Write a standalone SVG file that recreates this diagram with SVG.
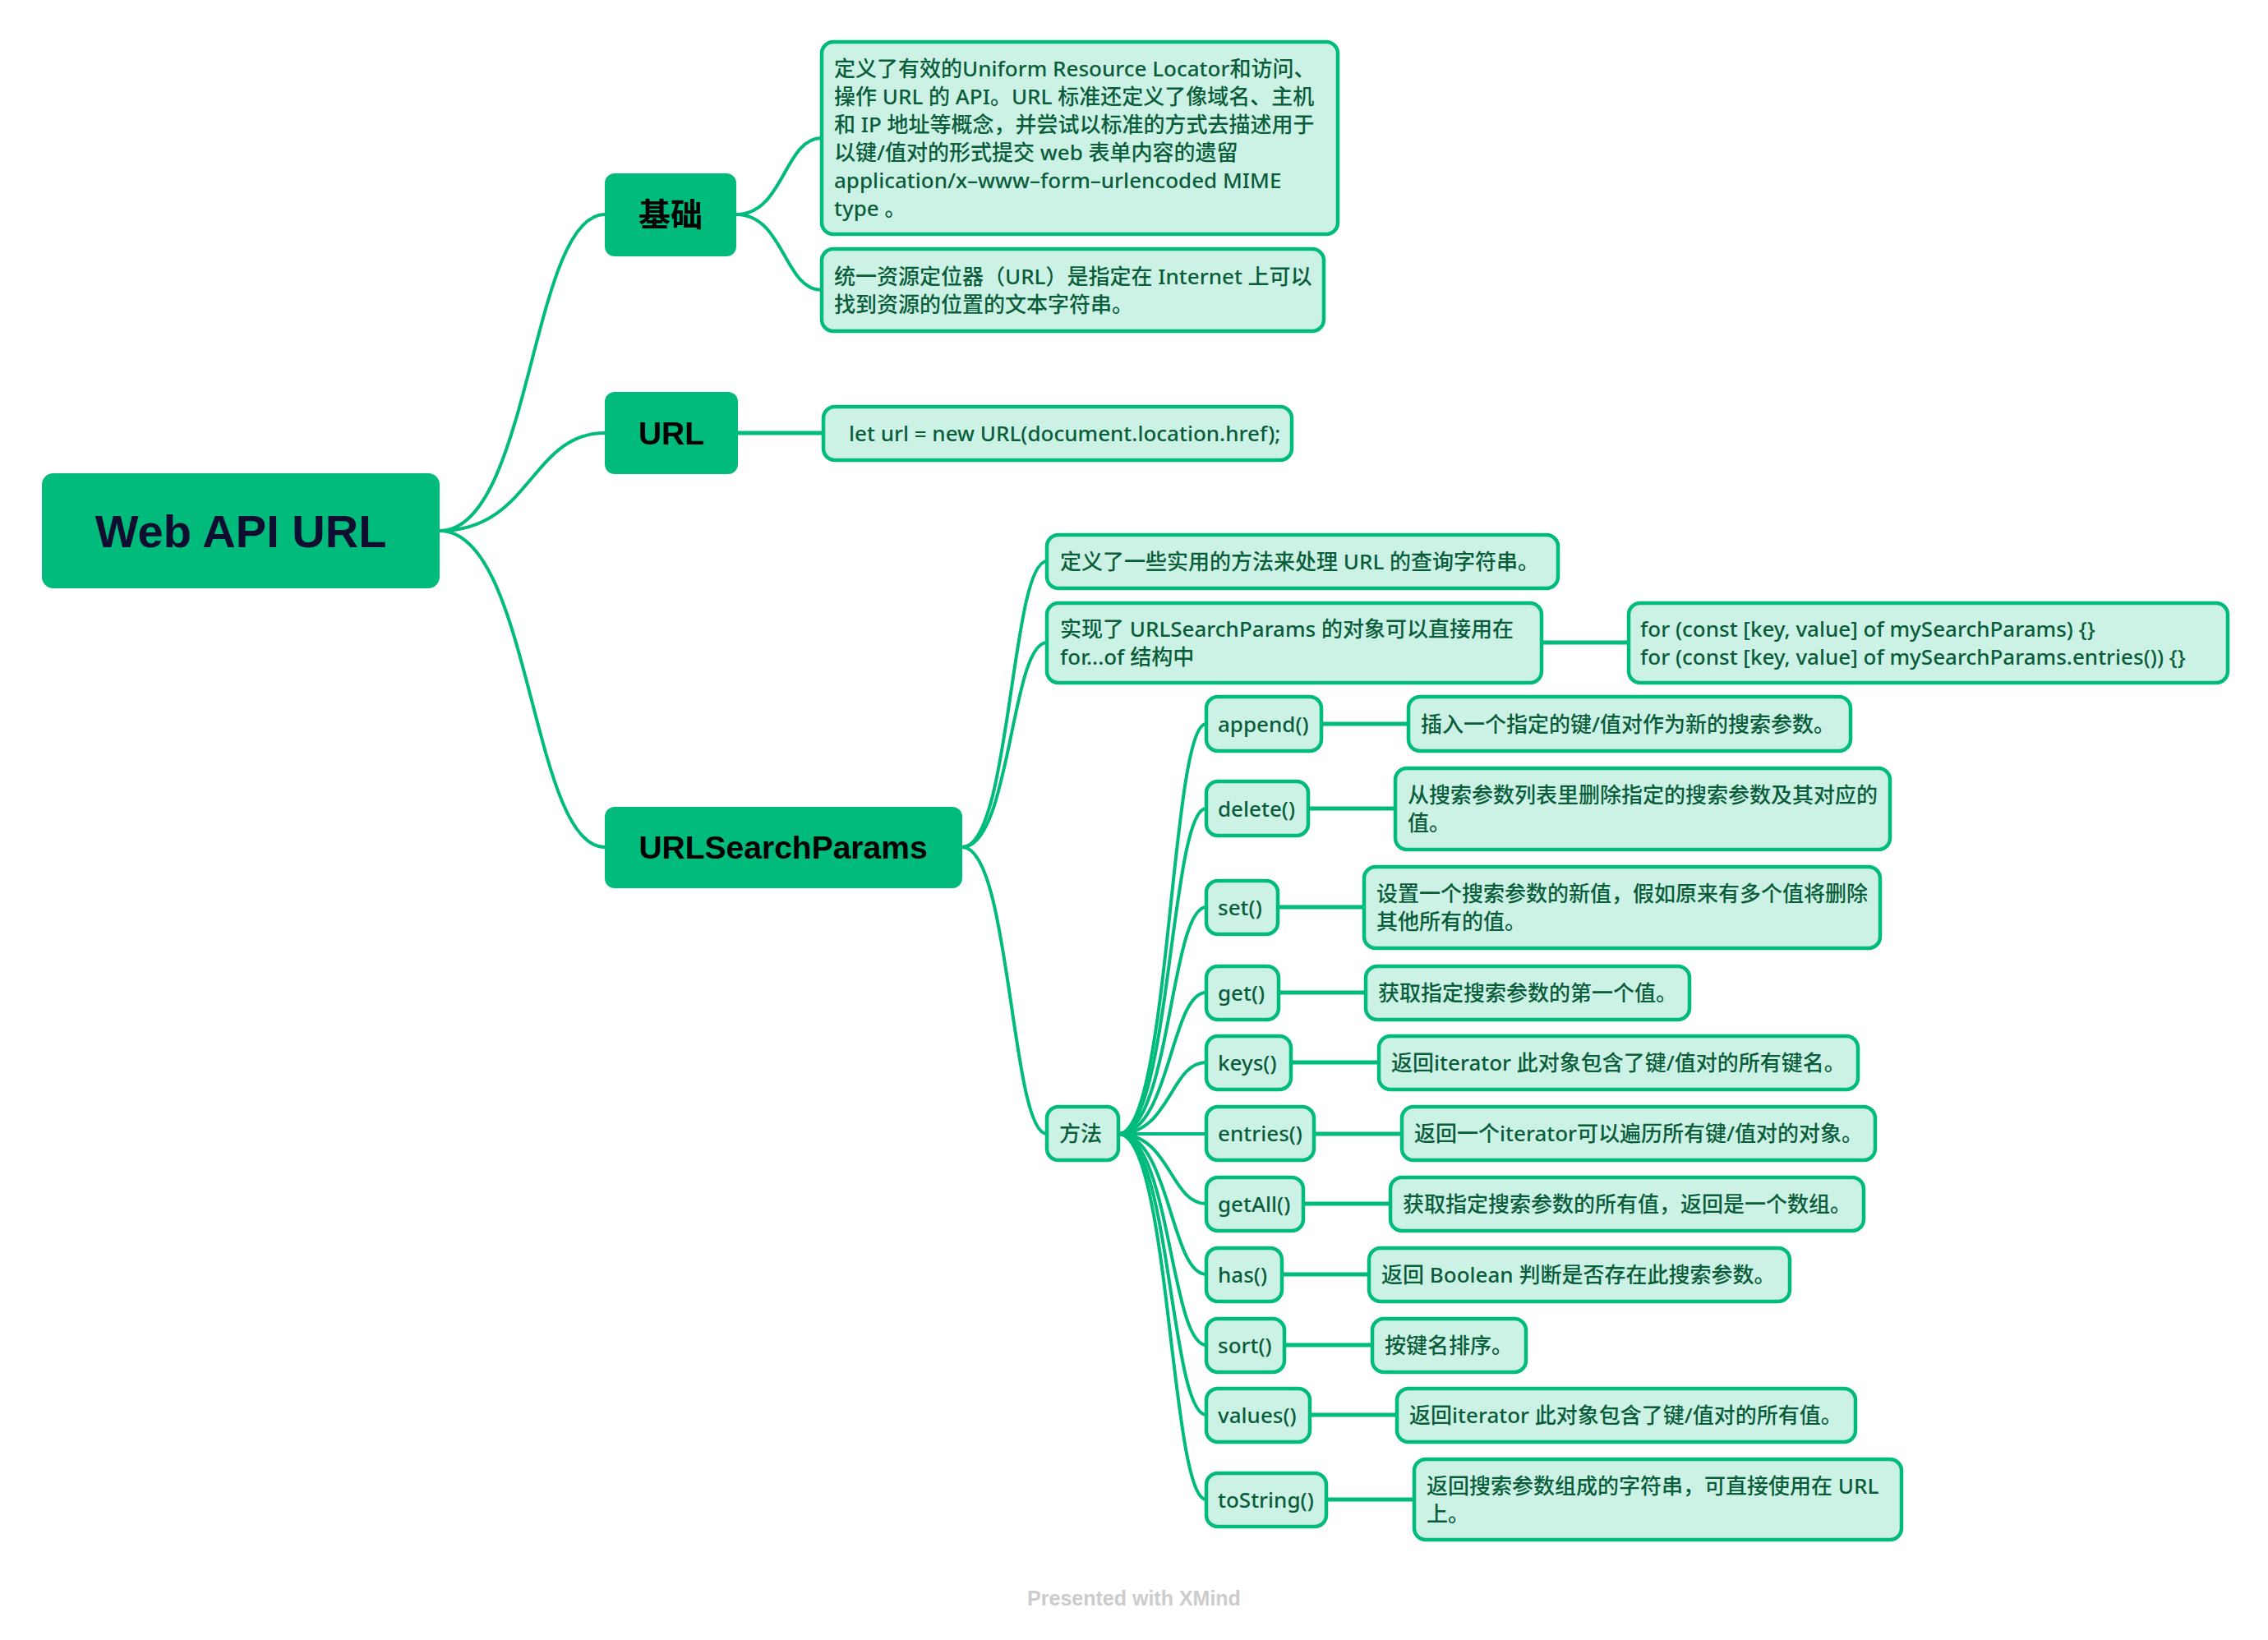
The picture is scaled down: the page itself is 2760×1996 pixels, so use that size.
<svg xmlns="http://www.w3.org/2000/svg" width="2760" height="1996" viewBox="0 0 2760 1996">
  <style>
    .bg { fill: #ffffff; }
    .root rect { fill: #00bb7c; }
    .root text { font-family: "Liberation Sans", "Noto Sans CJK SC", sans-serif; font-size: 56px; font-weight: bold; fill: #0e0e30; text-anchor: middle; }
    .main rect { fill: #00bb7c; }
    .main text { font-family: "Liberation Sans", "Noto Sans CJK SC", sans-serif; font-size: 39px; font-weight: bold; fill: #000000; text-anchor: middle; }
    .sub rect { fill: #ccf2e5; stroke: #00bb7c; stroke-width: 4.5; }
    .sub text { font-family: "Noto Sans", "Noto Sans CJK SC", sans-serif; font-size: 26px; font-weight: 500; fill: #0a5d3b; }
    .edges path { fill: none; stroke: #00bb7c; stroke-width: 4; stroke-linecap: round; }
    .edges .leaf { stroke-width: 5; }
    .footer { font-family: "Liberation Sans", sans-serif; font-size: 25px; font-weight: bold; fill: #cccccc; text-anchor: middle; }
  </style>

  <rect class="bg" x="0" y="0" width="2760" height="1996"/>

  <!-- connectors -->
  <g id="connectors" class="edges">
    <!-- root to main topics -->
    <path d="M535 646 C646 646 646 261 736 261"/>
    <path d="M535 646 C646 646 646 527 736 527"/>
    <path d="M535 646 C646 646 646 1031 736 1031"/>
    <!-- 基础 -->
    <path d="M896 261 C954 261 954 168 1000 168"/>
    <path d="M896 261 C954 261 954 353 1000 353"/>
    <!-- URL -->
    <path class="leaf" d="M898 527 L1002 527"/>
    <!-- URLSearchParams -->
    <path d="M1171 1031 C1230 1031 1230 683 1274 683"/>
    <path d="M1171 1031 C1230 1031 1230 782 1274 782"/>
    <path d="M1171 1031 C1230 1031 1230 1380 1274 1380"/>
    <path class="leaf" d="M1876 782 L1982 782"/>
    <!-- 方法 to methods -->
    <path d="M1361 1380 C1424 1380 1424 881 1468 881"/>
    <path d="M1361 1380 C1424 1380 1424 984 1468 984"/>
    <path d="M1361 1380 C1424 1380 1424 1104 1468 1104"/>
    <path d="M1361 1380 C1424 1380 1424 1208 1468 1208"/>
    <path d="M1361 1380 C1424 1380 1424 1293 1468 1293"/>
    <path d="M1361 1380 C1424 1380 1424 1380 1468 1380"/>
    <path d="M1361 1380 C1424 1380 1424 1465 1468 1465"/>
    <path d="M1361 1380 C1424 1380 1424 1551 1468 1551"/>
    <path d="M1361 1380 C1424 1380 1424 1637 1468 1637"/>
    <path d="M1361 1380 C1424 1380 1424 1722 1468 1722"/>
    <path d="M1361 1380 C1424 1380 1424 1825 1468 1825"/>
    <!-- methods to descriptions -->
    <path class="leaf" d="M1608 881 L1714 881"/>
    <path class="leaf" d="M1592 984 L1698 984"/>
    <path class="leaf" d="M1555 1104 L1660 1104"/>
    <path class="leaf" d="M1556 1208 L1662 1208"/>
    <path class="leaf" d="M1571 1293 L1678 1293"/>
    <path class="leaf" d="M1599 1380 L1706 1380"/>
    <path class="leaf" d="M1586 1465 L1692 1465"/>
    <path class="leaf" d="M1560 1551 L1666 1551"/>
    <path class="leaf" d="M1563 1637 L1670 1637"/>
    <path class="leaf" d="M1594 1722 L1700 1722"/>
    <path class="leaf" d="M1614 1825 L1721 1825"/>
  </g>

  <!-- central topic -->
  <g id="root" class="root">
    <rect x="51" y="576" width="484" height="140" rx="14"/>
    <text x="293" y="666">Web API URL</text>
  </g>

  <!-- main topics -->
  <g id="jichu" class="main">
    <rect x="736" y="211" width="160" height="101" rx="12"/>
    <text x="816" y="275">基础</text>
  </g>
  <g id="url" class="main">
    <rect x="736" y="477" width="162" height="100" rx="12"/>
    <text x="817" y="541">URL</text>
  </g>
  <g id="usp" class="main">
    <rect x="736" y="982" width="435" height="99" rx="12"/>
    <text x="953" y="1045">URLSearchParams</text>
  </g>

  <!-- 基础 details -->
  <g id="jichu-def" class="sub">
    <rect x="1000" y="51" width="628" height="234" rx="14"/>
    <text x="1015">
      <tspan x="1015" y="93">定义了有效的Uniform Resource Locator和访问、</tspan>
      <tspan x="1015" y="127">操作 URL 的 API。URL 标准还定义了像域名、主机</tspan>
      <tspan x="1015" y="161">和 IP 地址等概念，并尝试以标准的方式去描述用于</tspan>
      <tspan x="1015" y="195">以键/值对的形式提交 web 表单内容的遗留</tspan>
      <tspan x="1015" y="229">application/x–www–form–urlencoded MIME</tspan>
      <tspan x="1015" y="263">type 。</tspan>
    </text>
  </g>
  <g id="jichu-url" class="sub">
    <rect x="1000" y="303" width="611" height="100" rx="14"/>
    <text>
      <tspan x="1015" y="346">统一资源定位器（URL）是指定在 Internet 上可以</tspan>
      <tspan x="1015" y="380">找到资源的位置的文本字符串。</tspan>
    </text>
  </g>

  <!-- URL detail -->
  <g id="url-code" class="sub">
    <rect x="1002" y="495" width="570" height="65" rx="14"/>
    <text x="1033" y="537">let url = new URL(document.location.href);</text>
  </g>

  <!-- URLSearchParams details -->
  <g id="usp-def" class="sub">
    <rect x="1274" y="651" width="622" height="65" rx="14"/>
    <text x="1290" y="693">定义了一些实用的方法来处理 URL 的查询字符串。</text>
  </g>
  <g id="usp-iter" class="sub">
    <rect x="1274" y="734" width="602" height="97" rx="14"/>
    <text>
      <tspan x="1290" y="775">实现了 URLSearchParams 的对象可以直接用在</tspan>
      <tspan x="1290" y="809">for...of 结构中</tspan>
    </text>
  </g>
  <g id="usp-iter-code" class="sub">
    <rect x="1982" y="734" width="729" height="97" rx="14"/>
    <text>
      <tspan x="1996" y="775">for (const [key, value] of mySearchParams) {}</tspan>
      <tspan x="1996" y="809">for (const [key, value] of mySearchParams.entries()) {}</tspan>
    </text>
  </g>
  <g id="methods" class="sub">
    <rect x="1274" y="1347" width="87" height="65" rx="14"/>
    <text x="1289" y="1389">方法</text>
  </g>

  <!-- methods -->
  <g id="m-append" class="sub">
    <rect x="1468" y="848" width="140" height="66" rx="14"/>
    <text x="1482" y="891">append()</text>
  </g>
  <g id="d-append" class="sub">
    <rect x="1714" y="848" width="538" height="66" rx="14"/>
    <text x="1729" y="891">插入一个指定的键/值对作为新的搜索参数。</text>
  </g>

  <g id="m-delete" class="sub">
    <rect x="1468" y="951" width="124" height="66" rx="14"/>
    <text x="1482" y="994">delete()</text>
  </g>
  <g id="d-delete" class="sub">
    <rect x="1698" y="935" width="602" height="99" rx="14"/>
    <text>
      <tspan x="1713" y="977">从搜索参数列表里删除指定的搜索参数及其对应的</tspan>
      <tspan x="1713" y="1011">值。</tspan>
    </text>
  </g>

  <g id="m-set" class="sub">
    <rect x="1468" y="1072" width="87" height="65" rx="14"/>
    <text x="1482" y="1114">set()</text>
  </g>
  <g id="d-set" class="sub">
    <rect x="1660" y="1055" width="628" height="99" rx="14"/>
    <text>
      <tspan x="1675" y="1097">设置一个搜索参数的新值，假如原来有多个值将删除</tspan>
      <tspan x="1675" y="1131">其他所有的值。</tspan>
    </text>
  </g>

  <g id="m-get" class="sub">
    <rect x="1468" y="1176" width="88" height="65" rx="14"/>
    <text x="1482" y="1218">get()</text>
  </g>
  <g id="d-get" class="sub">
    <rect x="1662" y="1176" width="394" height="65" rx="14"/>
    <text x="1677" y="1218">获取指定搜索参数的第一个值。</text>
  </g>

  <g id="m-keys" class="sub">
    <rect x="1468" y="1261" width="103" height="65" rx="14"/>
    <text x="1482" y="1303">keys()</text>
  </g>
  <g id="d-keys" class="sub">
    <rect x="1678" y="1261" width="583" height="65" rx="14"/>
    <text x="1693" y="1303">返回iterator 此对象包含了键/值对的所有键名。</text>
  </g>

  <g id="m-entries" class="sub">
    <rect x="1468" y="1347" width="131" height="65" rx="14"/>
    <text x="1482" y="1389">entries()</text>
  </g>
  <g id="d-entries" class="sub">
    <rect x="1706" y="1347" width="576" height="65" rx="14"/>
    <text x="1721" y="1389">返回一个iterator可以遍历所有键/值对的对象。</text>
  </g>

  <g id="m-getall" class="sub">
    <rect x="1468" y="1433" width="118" height="65" rx="14"/>
    <text x="1482" y="1475">getAll()</text>
  </g>
  <g id="d-getall" class="sub">
    <rect x="1692" y="1433" width="576" height="65" rx="14"/>
    <text x="1707" y="1475">获取指定搜索参数的所有值，返回是一个数组。</text>
  </g>

  <g id="m-has" class="sub">
    <rect x="1468" y="1519" width="92" height="65" rx="14"/>
    <text x="1482" y="1561">has()</text>
  </g>
  <g id="d-has" class="sub">
    <rect x="1666" y="1519" width="512" height="65" rx="14"/>
    <text x="1681" y="1561">返回 Boolean 判断是否存在此搜索参数。</text>
  </g>

  <g id="m-sort" class="sub">
    <rect x="1468" y="1605" width="95" height="65" rx="14"/>
    <text x="1482" y="1647">sort()</text>
  </g>
  <g id="d-sort" class="sub">
    <rect x="1670" y="1605" width="187" height="65" rx="14"/>
    <text x="1685" y="1647">按键名排序。</text>
  </g>

  <g id="m-values" class="sub">
    <rect x="1468" y="1690" width="126" height="65" rx="14"/>
    <text x="1482" y="1732">values()</text>
  </g>
  <g id="d-values" class="sub">
    <rect x="1700" y="1690" width="558" height="65" rx="14"/>
    <text x="1715" y="1732">返回iterator 此对象包含了键/值对的所有值。</text>
  </g>

  <g id="m-tostring" class="sub">
    <rect x="1468" y="1793" width="146" height="65" rx="14"/>
    <text x="1482" y="1835">toString()</text>
  </g>
  <g id="d-tostring" class="sub">
    <rect x="1721" y="1776" width="593" height="98" rx="14"/>
    <text>
      <tspan x="1736" y="1818">返回搜索参数组成的字符串，可直接使用在 URL</tspan>
      <tspan x="1736" y="1852">上。</tspan>
    </text>
  </g>

  <text class="footer" x="1380" y="1954">Presented with XMind</text>
</svg>
